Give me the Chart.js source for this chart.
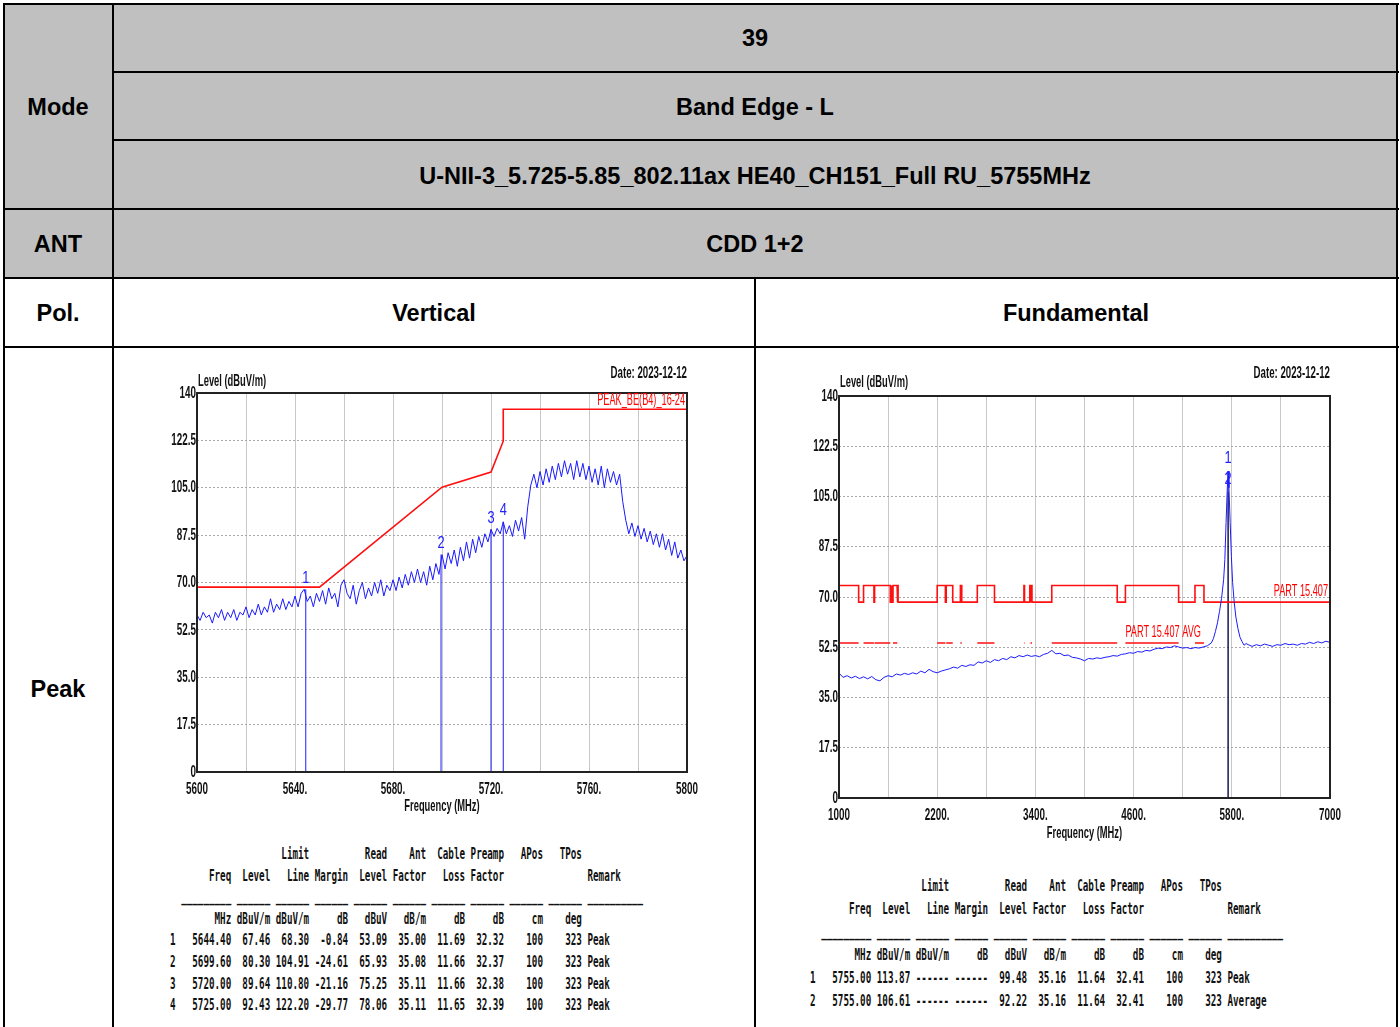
<!DOCTYPE html>
<html>
<head>
<meta charset="utf-8">
<script src="https://cdn.jsdelivr.net/npm/chart.js@4.4.0/dist/chart.umd.min.js"></script>
<style>
  body { margin: 0; background: #fff; overflow: hidden; }
  #page { position: relative; width: 1400px; height: 1027px; overflow: hidden; }
  .fill { position: absolute; background: #c0c0c0; }
  .ln { position: absolute; background: #000; }
  .t { position: absolute; transform: translate(-50%, -50%); white-space: nowrap;
       font: bold 23.5px 'Liberation Sans', Arial, sans-serif; color: #000; }
  canvas { position: absolute; }
  pre { position: absolute; margin: 0; font-family: 'DejaVu Sans Mono', monospace; font-size: 15.5px;
        font-weight: bold; color: #111; transform-origin: left top; transform: scaleX(0.5965); }
</style>
</head>
<body>
<div id="page">
  <div class="fill" style="left:4px;top:4px;width:1393px;height:274px"></div>

  <div class="ln" style="left:3px;top:3px;width:1396px;height:2px"></div>
  <div class="ln" style="left:113px;top:71px;width:1286px;height:2px"></div>
  <div class="ln" style="left:113px;top:139px;width:1286px;height:2px"></div>
  <div class="ln" style="left:3px;top:208px;width:1396px;height:2px"></div>
  <div class="ln" style="left:3px;top:277px;width:1396px;height:2px"></div>
  <div class="ln" style="left:3px;top:346px;width:1396px;height:2px"></div>
  <div class="ln" style="left:3px;top:3px;width:2px;height:1030px"></div>
  <div class="ln" style="left:112px;top:3px;width:2px;height:1030px"></div>
  <div class="ln" style="left:1396px;top:3px;width:2px;height:1030px"></div>
  <div class="ln" style="left:754px;top:277px;width:2px;height:760px"></div>

  <div class="t" style="left:755px;top:38px">39</div>
  <div class="t" style="left:755px;top:107px">Band Edge - L</div>
  <div class="t" style="left:755px;top:176px">U-NII-3_5.725-5.85_802.11ax HE40_CH151_Full RU_5755MHz</div>
  <div class="t" style="left:755px;top:244px">CDD 1+2</div>
  <div class="t" style="left:58px;top:107px">Mode</div>
  <div class="t" style="left:58px;top:244px">ANT</div>
  <div class="t" style="left:58px;top:313px">Pol.</div>
  <div class="t" style="left:434px;top:313px">Vertical</div>
  <div class="t" style="left:1076px;top:313px">Fundamental</div>
  <div class="t" style="left:58px;top:689px">Peak</div>

  <canvas id="left" width="560" height="460" style="left:150px;top:360px"></canvas>
  <canvas id="right" width="560" height="490" style="left:790px;top:360px"></canvas>

<pre style="left:170px;top:844px;line-height:21.6px">                    Limit          Read    Ant  Cable Preamp   APos   TPos
       Freq  Level   Line Margin  Level Factor   Loss Factor               Remark
  _________ ______ ______ ______ ______ ______ ______ ______ ______ ______ __________
        MHz dBuV/m dBuV/m     dB   dBuV   dB/m     dB     dB     cm    deg
1   5644.40  67.46  68.30  -0.84  53.09  35.00  11.69  32.32    100    323 Peak
2   5699.60  80.30 104.91 -24.61  65.93  35.08  11.66  32.37    100    323 Peak
3   5720.00  89.64 110.80 -21.16  75.25  35.11  11.66  32.38    100    323 Peak
4   5725.00  92.43 122.20 -29.77  78.06  35.11  11.65  32.39    100    323 Peak</pre>

<pre style="left:810px;top:875px;line-height:23px">                    Limit          Read    Ant  Cable Preamp   APos   TPos
       Freq  Level   Line Margin  Level Factor   Loss Factor               Remark
  _________ ______ ______ ______ ______ ______ ______ ______ ______ ______ __________
        MHz dBuV/m dBuV/m     dB   dBuV   dB/m     dB     dB     cm    deg
1   5755.00 113.87 ------ ------  99.48  35.16  11.64  32.41    100    323 Peak
2   5755.00 106.61 ------ ------  92.22  35.16  11.64  32.41    100    323 Average</pre>
</div>

<script>
// ---- shared axis values ----
const yTickValues = [0, 17.5, 35, 52.5, 70, 87.5, 105, 122.5, 140];
const yTickLabels = ['0', '17.5', '35.0', '52.5', '70.0', '87.5', '105.0', '122.5', '140'];

// ---- left chart (band edge 5600-5800 MHz) ----
const leftTickValues = [5600, 5640, 5680, 5720, 5760, 5800];
const leftTickLabels = ['5600', '5640.', '5680.', '5720.', '5760.', '5800'];
const leftStart = 5600;
const leftStep = 1.25;
const leftLevel = [
  58, 56, 59, 57, 58, 55, 59, 57,
  60, 56, 59, 57, 60, 56, 59, 58,
  61, 57, 60, 58, 62, 58, 61, 59,
  64, 59, 62, 60, 64, 60, 63, 61,
  65, 61, 66, 67.5, 63, 65, 61, 66,
  63, 67, 62, 68, 64, 66, 61, 69,
  71, 66, 64, 69, 62, 67, 70, 64,
  68, 65, 70, 66, 71, 65, 69, 67,
  71, 67, 72, 68, 73, 69, 74, 70,
  75, 70, 74, 69, 76, 71, 77, 73,
  80.3, 75, 81, 77, 82, 76, 83, 78,
  85, 79, 86, 81, 87, 83, 88, 85,
  89.6, 87, 90, 88, 92.4, 88, 91, 87,
  93, 89, 94, 86, 98, 106, 110, 105,
  111, 106, 112, 107, 113, 108, 114, 109,
  115, 110, 114, 108, 115, 109, 114, 108,
  113, 107, 112, 106, 113, 105, 112, 107,
  111, 106, 110, 100, 93, 88, 92, 87,
  91, 86, 90, 85, 89, 84, 88, 83,
  88, 82, 86, 80, 85, 79, 82, 78, 80
];
const leftLimitFreq = [5600, 5650, 5700, 5720, 5725, 5725, 5800];
const leftLimitLevel = [68.3, 68.3, 105.2, 110.8, 122.2, 134, 134];
const leftMarkerFreq = [5644.4, 5699.6, 5720, 5725];
const leftMarkerLevel = [67.46, 80.30, 89.64, 92.43];

// ---- right chart (fundamental 1-7 GHz) ----
const rightTickValues = [1000, 2200, 3400, 4600, 5800, 7000];
const rightTickLabels = ['1000', '2200.', '3400.', '4600.', '5800.', '7000'];
const rightFreq = [
  1000, 1050, 1100, 1150, 1200, 1250, 1300, 1350, 1400, 1450,
  1500, 1550, 1600, 1650, 1700, 1750, 1800, 1850, 1900, 1950,
  2000, 2050, 2100, 2150, 2200, 2250, 2300, 2350, 2400, 2450,
  2500, 2550, 2600, 2650, 2700, 2750, 2800, 2850, 2900, 2950,
  3000, 3050, 3100, 3150, 3200, 3250, 3300, 3350, 3400, 3450,
  3500, 3550, 3600, 3650, 3700, 3750, 3800, 3850, 3900, 3950,
  4000, 4050, 4100, 4150, 4200, 4250, 4300, 4350, 4400, 4450,
  4500, 4550, 4600, 4650, 4700, 4750, 4800, 4850, 4900, 4950,
  5000, 5050, 5100, 5150, 5200, 5250, 5300, 5350, 5400, 5450,
  5500, 5550, 5575, 5600, 5625, 5650, 5675, 5700, 5715, 5730,
  5745, 5755, 5765, 5780, 5795, 5810, 5830, 5850, 5875, 5900,
  5925, 5950, 5975, 6000, 6050, 6100, 6150, 6200, 6250, 6300,
  6350, 6400, 6450, 6500, 6550, 6600, 6650, 6700, 6750, 6800,
  6850, 6900, 6950, 7000
];
const rightLevel = [
  43.5, 42, 42.6, 41.8, 42.4, 41.6, 42.2, 41.5, 42.3, 41.2,
  40.8, 42, 42.6, 42.2, 43.2, 42.8, 43.4, 43, 43.6, 43.2,
  44.2, 43.6, 44.8, 44, 43.6, 44.2, 44.6, 45, 45.6, 45.2,
  46.2, 45.8, 46.4, 46.2, 47.4, 47, 47.8, 47.2, 48.2, 47.8,
  48.6, 48.2, 49.2, 48.8, 49.6, 49.2, 49.8, 49.3, 49.6, 49.2,
  50, 50.4, 51.4, 50.2, 50.4, 49.6, 49.8, 49, 48.8, 48.4,
  47.8, 48.6, 48.4, 48.8, 48.6, 49, 49.2, 49.6, 49.4, 50,
  50.2, 50.6, 50.4, 51, 50.8, 51.4, 51.2, 51.8, 52.2, 52,
  52.6, 52.4, 53, 52.6, 52.2, 52.4, 52, 52.4, 52.2, 52.6,
  53, 54, 55.5, 58, 61, 65, 69.5, 76, 83, 96,
  108, 113.87, 108, 96, 84, 75, 68, 63, 59, 56,
  54.5, 53.2, 53.8, 53.4, 52.8, 53.4, 53, 53.6, 53.2, 52.8,
  53.4, 53.2, 53.8, 53.4, 53.6, 53.2, 53.8, 53.6, 54.2, 53.8,
  54.4, 54, 54.6, 54.2
];
// restricted bands: 74 dBuV/m peak / 54 avg inside, 68.2 outside
const bandStart = [1000, 1300, 1435, 1645.5, 1660, 1718.8, 2200, 2310, 2483.5, 2690, 3260, 3332, 3345.8, 3600, 4500, 5350];
const bandEnd = [1240, 1427, 1626.5, 1646.5, 1710, 1722.2, 2300, 2390, 2500, 2900, 3267, 3339, 3358, 4400, 5150, 5460];
const peakHigh = 74;
const peakLow = 68.2;
const avgLimit = 54;
const rightMarkerFreq = [5755, 5755];
const rightMarkerLevel = [113.87, 106.61];

const SANS = '"Liberation Sans", Arial, sans-serif';

function pts(xs, ys) { return xs.map((x, i) => ({ x: x, y: ys[i] })); }

// the plotter uses a narrow face; squeeze a normal sans horizontally
function narrowText(ctx, text, x, y, align, font, squeeze, color) {
  ctx.save();
  ctx.font = font + ' ' + SANS;
  ctx.fillStyle = color;
  ctx.textBaseline = 'middle';
  ctx.textAlign = 'left';
  const w = ctx.measureText(text).width * squeeze;
  const left = align === 'right' ? x - w : align === 'center' ? x - w / 2 : x;
  ctx.translate(left, y);
  ctx.scale(squeeze, 1);
  ctx.fillText(text, 0, 0);
  ctx.restore();
}

const annotate = {
  id: 'annotate',
  afterDatasetsDraw(chart, args, opts) {
    const { ctx, chartArea: a, scales: { x, y } } = chart;
    ctx.save();
    ctx.strokeStyle = '#222';
    ctx.lineWidth = 2;
    ctx.strokeRect(a.left, a.top, a.right - a.left, a.bottom - a.top);
    ctx.restore();

    const axisFont = 'bold 17px';
    yTickValues.forEach((v, i) => {
      narrowText(ctx, yTickLabels[i], a.left - 1, y.getPixelForValue(v), 'right', axisFont, 0.58, '#111');
    });
    opts.xTickValues.forEach((v, i) => {
      narrowText(ctx, opts.xTickLabels[i], x.getPixelForValue(v), a.bottom + 17, 'center', axisFont, 0.58, '#111');
    });
    narrowText(ctx, 'Frequency (MHz)', (a.left + a.right) / 2, a.bottom + opts.titleOffset, 'center', axisFont, 0.55, '#111');
    narrowText(ctx, 'Level (dBuV/m)', a.left + 1, a.top - opts.levelOffset, 'left', axisFont, 0.55, '#111');
    narrowText(ctx, 'Date: 2023-12-12', a.right, a.top - opts.dateOffset, 'right', axisFont, 0.57, '#111');

    opts.notes.forEach((n) => {
      narrowText(ctx, n.text, x.getPixelForValue(n.x) + n.dx, y.getPixelForValue(n.y) + n.dy, n.align, '17px', 0.54, '#ff0000');
    });

    opts.markerFreq.forEach((f, i) => {
      narrowText(ctx, String(i + 1), x.getPixelForValue(f), y.getPixelForValue(opts.markerLevel[i]) + opts.markerDy,
        'center', '16px', 0.8, '#2020ff');
    });
  }
};

function baseOptions(cfg) {
  return {
    responsive: false,
    animation: false,
    layout: { padding: cfg.padding },
    plugins: { legend: { display: false }, tooltip: { enabled: false }, annotate: cfg.annotate },
    elements: { point: { radius: 0 }, line: { tension: 0 } },
    scales: {
      x: {
        type: 'linear', min: cfg.xMin, max: cfg.xMax,
        afterFit: (s) => { s.height = cfg.xHeight; },
        grid: { color: '#c8c8c8', lineWidth: 1, drawTicks: false },
        border: { display: false },
        ticks: { stepSize: cfg.xStep, autoSkip: false, display: false }
      },
      y: {
        min: 0, max: 140,
        afterFit: (s) => { s.width = cfg.yWidth; },
        grid: { color: '#a8a8a8', lineWidth: 1, drawTicks: false },
        border: { display: false, dash: [2, 2] },
        ticks: { stepSize: 17.5, autoSkip: false, display: false }
      }
    }
  };
}

// left chart
const leftTrace = leftLevel.map((v, i) => ({ x: leftStart + i * leftStep, y: v }));
const leftMarkers = leftMarkerFreq.map((f, i) => ({
  data: [{ x: f, y: 0 }, { x: f, y: leftMarkerLevel[i] }],
  borderColor: '#1a1aff', borderWidth: 1
}));
new Chart(document.getElementById('left'), {
  type: 'line',
  data: {
    datasets: [
      { data: leftTrace, borderColor: '#1a1aff', borderWidth: 1 },
      { data: pts(leftLimitFreq, leftLimitLevel), borderColor: '#ff1010', borderWidth: 1.6 }
    ].concat(leftMarkers)
  },
  options: baseOptions({
    padding: { top: 33, right: 23, bottom: 0, left: 0 },
    xMin: 5600, xMax: 5800, xStep: 20, xHeight: 48, yWidth: 47,
    annotate: {
      xTickValues: leftTickValues, xTickLabels: leftTickLabels,
      titleOffset: 34, levelOffset: 12, dateOffset: 20, markerDy: -11,
      markerFreq: leftMarkerFreq, markerLevel: leftMarkerLevel,
      notes: [{ text: 'PEAK_BE(B4)_16-24', x: 5800, y: 134, dx: -2, dy: -9, align: 'right' }]
    }
  }),
  plugins: [annotate]
});

// right chart: step limits built from the restricted band edges
const peakLimit = [];
const avgLine = [];
let cursor = 1000;
bandStart.forEach((s, i) => {
  if (s > cursor) { peakLimit.push({ x: cursor, y: peakLow }, { x: s, y: peakLow }); }
  peakLimit.push({ x: s, y: peakHigh }, { x: bandEnd[i], y: peakHigh });
  avgLine.push({ x: s, y: avgLimit }, { x: bandEnd[i], y: avgLimit }, { x: bandEnd[i], y: null });
  cursor = bandEnd[i];
});
peakLimit.push({ x: cursor, y: peakLow }, { x: 7000, y: peakLow });

const rightMarkers = rightMarkerFreq.map((f, i) => ({
  data: [{ x: f, y: 0 }, { x: f, y: rightMarkerLevel[i] }],
  borderColor: '#141450', borderWidth: 1
}));
new Chart(document.getElementById('right'), {
  type: 'line',
  data: {
    datasets: [
      { data: pts(rightFreq, rightLevel), borderColor: '#1a1aff', borderWidth: 1 },
      { data: peakLimit, borderColor: '#ff1010', borderWidth: 1.6 },
      { data: avgLine, borderColor: '#ff1010', borderWidth: 1.6, spanGaps: false }
    ].concat(rightMarkers)
  },
  options: baseOptions({
    padding: { top: 36, right: 20, bottom: 0, left: 0 },
    xMin: 1000, xMax: 7000, xStep: 600, xHeight: 52, yWidth: 49,
    annotate: {
      xTickValues: rightTickValues, xTickLabels: rightTickLabels,
      titleOffset: 35, levelOffset: 14, dateOffset: 23, markerDy: -12,
      markerFreq: rightMarkerFreq, markerLevel: rightMarkerLevel,
      notes: [
        { text: 'PART 15.407', x: 7000, y: peakLow, dx: -2, dy: -11, align: 'right' },
        { text: 'PART 15.407 AVG', x: 4500, y: avgLimit, dx: 0, dy: -11, align: 'left' }
      ]
    }
  }),
  plugins: [annotate]
});
</script>
</body>
</html>
